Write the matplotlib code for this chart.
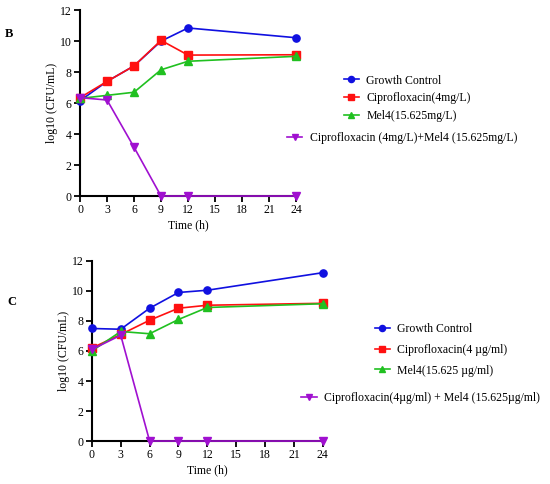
import matplotlib
matplotlib.use('Agg')
import matplotlib.pyplot as plt

plt.rcParams['font.family'] = ['Liberation Serif', 'DejaVu Serif']
plt.rcParams['font.size'] = 8.5

time = [0, 3, 6, 9, 12, 24]
xticks = [0, 3, 6, 9, 12, 15, 18, 21, 24]
yticks = [0, 2, 4, 6, 8, 10, 12]

# panel B
b_growth = [6.15, 7.4, 8.4, 10.0, 10.85, 10.22]
b_cipro = [6.35, 7.4, 8.4, 10.05, 9.1, 9.12]
b_mel4 = [6.3, 6.5, 6.7, 8.15, 8.7, 9.02]
b_combo = [6.35, 6.2, 3.15, 0, 0, 0]
b_labels = ['Growth Control', 'Ciprofloxacin(4mg/L)', 'Mel4(15.625mg/L)',
            'Ciprofloxacin (4mg/L)+Mel4 (15.625mg/L)']

# panel C
c_growth = [7.5, 7.45, 8.85, 9.9, 10.05, 11.22]
c_cipro = [6.2, 7.1, 8.05, 8.85, 9.05, 9.18]
c_mel4 = [6.0, 7.3, 7.15, 8.1, 8.9, 9.15]
c_combo = [6.1, 7.05, 0, 0, 0, 0]
c_labels = ['Growth Control', 'Ciprofloxacin(4 µg/ml)', 'Mel4(15.625 µg/ml)',
            'Ciprofloxacin(4µg/ml) + Mel4 (15.625µg/ml)']

colors = ['#1010e0', '#ff1010', '#20c020', '#a010d0']
markers = ['o', 's', '^', 'v']

fig = plt.figure(figsize=(5.5, 4.84), dpi=100)


def panel(rect, series, labels, letter, letter_pos, leg1, leg2, spacing):
    ax = fig.add_axes(rect)
    handles = []
    for ys, c, m, lab in zip(series, colors, markers, labels):
        h, = ax.plot(time, ys, color=c, marker=m, markersize=5.2, lw=1.2,
                     clip_on=False, zorder=3, label=lab)
        handles.append(h)
    ax.set_xlim(0, 24)
    ax.set_ylim(0, 12)
    ax.set_xticks(xticks)
    ax.set_yticks(yticks)
    for s in ['top', 'right']:
        ax.spines[s].set_visible(False)
    for s in ['left', 'bottom']:
        ax.spines[s].set_linewidth(1.5)
    ax.tick_params(width=1.3, length=4, direction='out', pad=2)
    ax.set_xlabel('Time (h)', labelpad=2)
    ax.set_ylabel('log10 (CFU/mL)', labelpad=1)
    fig.text(letter_pos[0], letter_pos[1], letter, fontweight='bold',
             fontsize=9, ha='left', va='center')
    fig.legend(handles=handles[:3], loc='upper left', bbox_to_anchor=leg1,
               frameon=False, handlelength=1.3, handletextpad=0.6,
               labelspacing=spacing, borderpad=0, borderaxespad=0,
               markerscale=0.85)
    fig.legend(handles=handles[3:], loc='upper left', bbox_to_anchor=leg2,
               frameon=False, handlelength=1.3, handletextpad=0.6,
               borderpad=0, borderaxespad=0, markerscale=0.85)
    return ax


panel([0.1455, 0.595, 0.3927, 0.384], [b_growth, b_cipro, b_mel4, b_combo],
      b_labels, 'B', (0.009, 0.93), (0.625, 0.846), (0.522, 0.728), 0.5)
panel([0.167, 0.0888, 0.42, 0.372], [c_growth, c_cipro, c_mel4, c_combo],
      c_labels, 'C', (0.013, 0.376), (0.681, 0.333), (0.548, 0.19), 0.75)

fig.savefig('out.png', dpi=100)
